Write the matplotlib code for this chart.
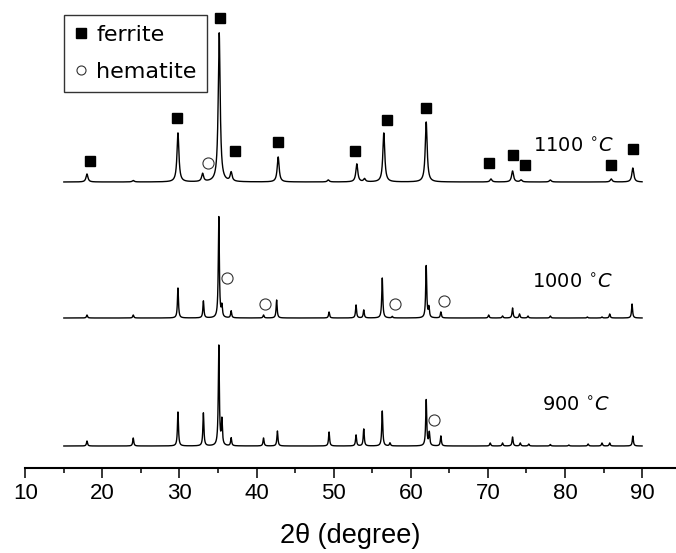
import numpy as np
import matplotlib
matplotlib.use("Agg")
import matplotlib.pyplot as plt
from matplotlib.lines import Line2D

# ---- data (peak positions in 2theta, heights in arbitrary units) ----
pos_1100 = [18.0, 24.0, 29.8, 33.0, 35.15, 36.7, 42.8, 49.3, 53.0, 54.0, 56.5, 62.0, 70.4, 73.2, 74.3, 78.1, 86.0, 88.8]
h_1100   = [8, 1.5, 49, 8, 149, 9, 25, 2, 18, 3, 49, 60, 3, 11, 2, 2, 3, 14]

pos_1000 = [18.0, 24.0, 29.8, 33.1, 35.1, 35.5, 36.7, 40.9, 42.6, 49.4, 52.9, 53.9, 56.3, 57.6, 62.0, 62.35,
            63.9, 70.1, 71.9, 73.2, 74.1, 75.2, 78.1, 82.9, 84.8, 85.8, 88.7]
h_1000   = [3, 3, 30, 17, 101, 11, 7, 3, 18, 6, 13, 8, 40, 1.5, 52, 10,
            6, 3, 2, 10, 4, 2, 2, 1, 1, 4, 14]

pos_900 = [18.0, 24.0, 29.8, 33.1, 35.1, 35.5, 36.7, 40.9, 42.7, 49.4, 52.9, 53.9, 56.3, 57.3, 62.0, 62.4,
           63.9, 70.3, 71.9, 73.2, 74.2, 75.3, 78.1, 80.5, 83.0, 84.8, 85.8, 88.8]
h_900   = [5, 8, 34, 33, 100, 25, 8, 8, 15, 14, 11, 17, 35, 3, 46, 13,
           10, 3, 3, 9, 3, 2, 1.5, 1, 2, 3, 3, 10]

offsets = [264, 128, 0]            # vertical offsets of 1100, 1000, 900 traces
fwhm = [0.30, 0.16, 0.16]
temp_labels = [r"1100 $^{\circ}C$", r"1000 $^{\circ}C$", r"900 $^{\circ}C$"]
label_x = [81.1, 80.9, 81.4]
label_y = [299, 163, 40]

# ferrite (square) markers and hematite (circle) markers
ferrite_x = [18.4, 29.7, 35.2, 37.2, 42.8, 52.8, 56.9, 62.0, 70.2, 73.2, 74.8, 86.0, 88.8]
ferrite_y = [285, 328, 428, 295, 304, 295, 326, 338, 283, 291, 281, 281, 297]
hematite_x = [33.7, 36.2, 41.1, 58.0, 64.3, 63.0]
hematite_y = [283, 168, 142, 142, 145, 26]

x_ticks = [10, 20, 30, 40, 50, 60, 70, 80, 90]
x_label = "2\u03b8 (degree)"
legend_labels = ["ferrite", "hematite"]

# ---- figure ----
fig = plt.figure(figsize=(6.76, 5.53), dpi=100)
ax = fig.add_axes([25.3 / 676, (553 - 467.7) / 553, (676 - 25.3) / 676, 467.7 / 553])

x = np.arange(15.0, 90.0001, 0.01)

def profile(positions, heights, w):
    y = np.zeros_like(x)
    g = w / 2.0
    for p, h in zip(positions, heights):
        y += h * g**2 / ((x - p) ** 2 + g**2)
    return y

for (pp, hh), off, w in zip([(pos_1100, h_1100), (pos_1000, h_1000), (pos_900, h_900)], offsets, fwhm):
    ax.plot(x, profile(pp, hh, w) + off, color="black", lw=1.0)

ax.plot(ferrite_x, ferrite_y, linestyle="none", marker="s", ms=7.5, color="black")
ax.plot(hematite_x, hematite_y, linestyle="none", marker="o", ms=8, mfc="none",
        mec="#333333", mew=0.8)

for t, lx, ly in zip(temp_labels, label_x, label_y):
    ax.text(lx, ly, t, ha="center", va="center", fontsize=14, family="DejaVu Sans")

ax.set_xlim(10, 94.4)
ax.set_ylim(-21.7, 446)

for s in ["left", "right", "top"]:
    ax.spines[s].set_visible(False)
ax.spines["bottom"].set_linewidth(1.5)
ax.set_yticks([])
ax.set_xticks(x_ticks)
ax.set_xticks(np.arange(15, 95, 10), minor=True)
ax.tick_params(axis="x", which="major", direction="out", length=7.5, width=1.1, pad=3.5,
               labelsize=16, labelfontfamily="Liberation Sans")
ax.tick_params(axis="x", which="minor", direction="out", length=3.5, width=1.1)
ax.set_xlabel(x_label, fontsize=19.5, family="Liberation Sans")
ax.xaxis.set_label_coords(0.5, -0.118)

handles = [Line2D([], [], linestyle="none", marker="s", ms=6.5, color="black"),
           Line2D([], [], linestyle="none", marker="o", ms=6.5, mfc="none", mec="#333333", mew=0.8)]
leg = ax.legend(handles, legend_labels, loc="upper left", bbox_to_anchor=((64 - 25.3) / 650.7, 1 - 15 / 467.7),
                borderaxespad=0, frameon=True, fancybox=False, edgecolor="black",
                prop={"family": "DejaVu Sans", "size": 16}, handlelength=0.6, handletextpad=0.4,
                borderpad=0.45, labelspacing=0.75)
leg.get_frame().set_linewidth(1.0)

fig.savefig("out.png", dpi=100)
